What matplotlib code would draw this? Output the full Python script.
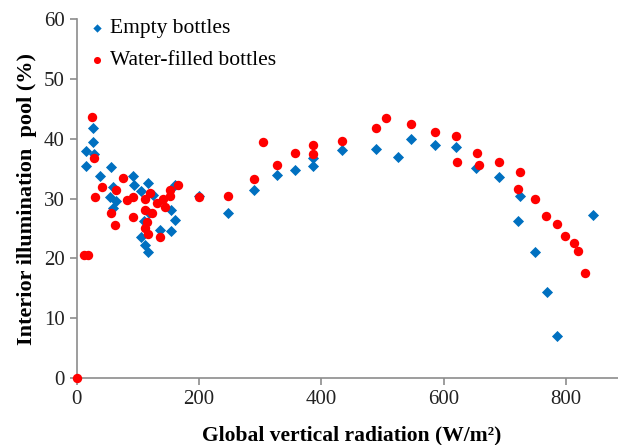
import matplotlib
matplotlib.use("Agg")
from matplotlib import pyplot as plt

# Empty bottles (blue diamonds)
empty_x = [15, 15, 26, 26, 28, 38, 56, 60, 65, 54.5, 60, 92.6, 94, 106, 117, 125,
           161, 155, 161, 154, 136, 106, 112, 117, 118.5, 110, 200, 247, 290.6,
           327, 357, 387, 387, 434, 489, 526, 547.5, 586, 620, 653, 691, 725,
           721, 750, 769, 786, 844]
empty_y = [35.5, 37.9, 41.8, 39.4, 37.4, 33.7, 35.3, 32.0, 29.6, 30.3, 28.4, 33.7, 32.3,
           31.2, 32.6, 30.6, 32.3, 28.1, 26.4, 24.6, 24.7, 23.6, 22.2, 21.1, 27.6,
           26.2, 30.5, 27.5, 31.4, 34.0, 34.7, 36.8, 35.5, 38.1, 38.3, 37.0,
           40.0, 38.9, 38.7, 35.1, 33.6, 30.4, 26.2, 21.0, 14.4, 7.0, 27.2]

# Water-filled bottles (red circles)
water_x = [0, 12, 18, 25.7, 28, 30, 41, 57, 62.6, 65, 76, 82, 92.6, 92.6, 112,
           120, 141.6, 152.6, 152.6, 144, 131, 112, 122.6, 114.5, 112, 117, 136,
           165, 200.5, 247, 290.6, 305, 327, 357, 387, 386, 434, 490, 506.5,
           547.5, 586, 621, 622, 654, 658, 691, 725, 721, 750, 768, 786, 799,
           812.6, 820, 832]
water_y = [0, 20.6, 20.6, 43.7, 36.8, 30.3, 32.0, 27.5, 25.6, 31.4, 33.4, 29.8, 30.3,
           26.9, 30.0, 30.9, 30.0, 30.5, 31.5, 28.6, 29.2, 28.1, 27.5, 26.1, 25.0,
           24.1, 23.5, 32.2, 30.3, 30.5, 33.3, 39.4, 35.7, 37.6, 38.9, 37.5, 39.7,
           41.8, 43.5, 42.5, 41.1, 40.4, 36.1, 37.6, 35.6, 36.2, 34.4, 31.6, 29.9,
           27.0, 25.7, 23.8, 22.5, 21.2, 17.5]

plt.rcParams["font.family"] = ["Liberation Serif", "DejaVu Serif"]

fig = plt.figure(figsize=(6.18, 4.45), dpi=100)
ax = fig.add_axes([0.124, 0.151, 0.8906, 0.8056])

ax.scatter(empty_x, empty_y, marker="D", s=32, color="#0070C0", linewidths=0,
           label="Empty bottles", zorder=3, clip_on=False)
ax.scatter(water_x, water_y, marker="o", s=46, color="#FF0000", linewidths=0,
           label="Water-filled bottles", zorder=4, clip_on=False)

ax.set_xlim(0, 900)
ax.set_ylim(0, 60)
ax.set_xticks([0, 200, 400, 600, 800])
ax.set_yticks([0, 10, 20, 30, 40, 50, 60])

for side in ["top", "right"]:
    ax.spines[side].set_visible(False)
for side in ["left", "bottom"]:
    ax.spines[side].set_color("#8c8c8c")
    ax.spines[side].set_linewidth(1.2)
ax.tick_params(colors="#8c8c8c", length=5, width=1.2, labelsize=15,
               labelcolor="#222222")

ax.set_xlabel("Global vertical radiation (W/m²)", fontsize=15.5,
              fontweight="bold", labelpad=12)
ax.set_ylabel("Interior illumination  pool (%)", fontsize=16, fontweight="bold",
              labelpad=5)

ax.legend(loc="upper left", bbox_to_anchor=(-0.03, 1.045), frameon=False, fontsize=15.5,
          handletextpad=-0.4, labelspacing=0.55, markerscale=0.75, borderaxespad=0.3)

fig.savefig("out.png", dpi=100)
